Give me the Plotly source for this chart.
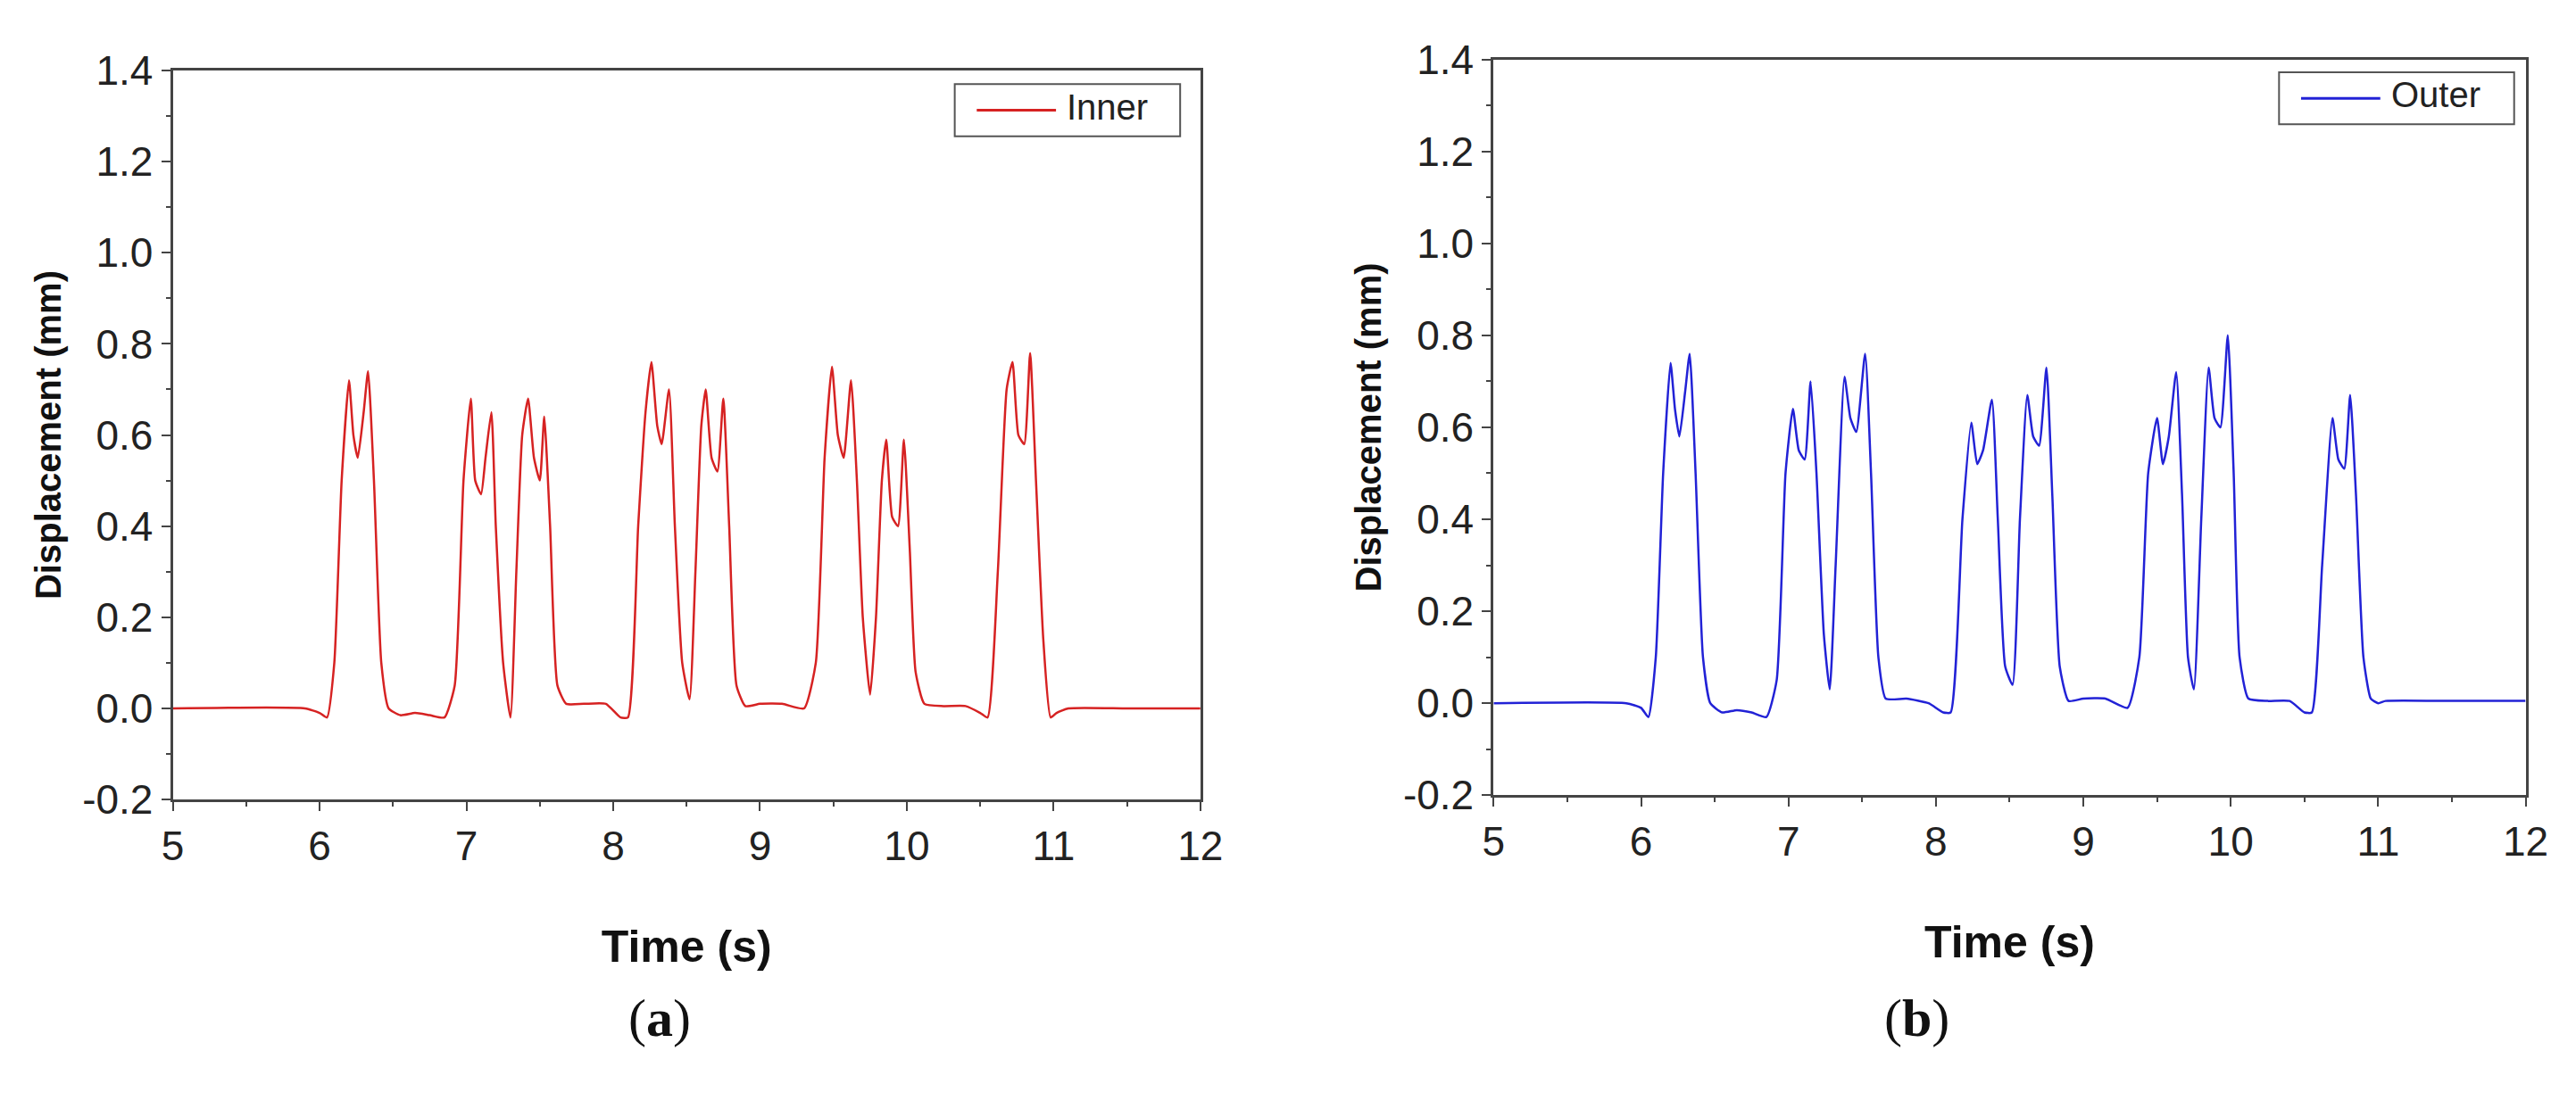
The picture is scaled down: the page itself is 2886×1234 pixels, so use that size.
import plotly.graph_objects as go

inner_t = [5.0, 5.9, 6.0, 6.05, 6.1, 6.15, 6.2, 6.23, 6.26, 6.3, 6.33, 6.37, 6.42, 6.47, 6.55, 6.65, 6.75, 6.85, 6.92,
           6.98, 7.03, 7.06, 7.1, 7.13, 7.17, 7.2, 7.25, 7.3, 7.34, 7.38, 7.42, 7.46, 7.5, 7.53, 7.57, 7.62, 7.68, 7.8, 7.95, 8.05, 8.1,
           8.17, 8.22, 8.26, 8.3, 8.33, 8.38, 8.42, 8.47, 8.52, 8.56, 8.6, 8.63, 8.67, 8.71, 8.75, 8.79, 8.84, 8.9, 9.0, 9.15, 9.3, 9.38,
           9.44, 9.49, 9.53, 9.57, 9.62, 9.66, 9.7, 9.75, 9.79, 9.83, 9.86, 9.9, 9.94, 9.98, 10.02, 10.06, 10.12, 10.25, 10.4, 10.5, 10.55,
           10.62, 10.68, 10.72, 10.76, 10.8, 10.84, 10.88, 10.93, 10.98, 11.02, 11.1, 11.5, 12.0]
inner_y = [0.0, 0.0, -0.01, -0.02, 0.1, 0.5, 0.72, 0.6, 0.55, 0.65, 0.74, 0.5, 0.1, 0.0, -0.015, -0.01, -0.015, -0.02, 0.05,
           0.5, 0.68, 0.5, 0.47, 0.55, 0.65, 0.4, 0.1, -0.02, 0.3, 0.6, 0.68, 0.55, 0.5, 0.64, 0.4, 0.05, 0.01, 0.01, 0.01, -0.02, -0.02,
           0.4, 0.65, 0.76, 0.62, 0.58, 0.70, 0.4, 0.1, 0.02, 0.3, 0.62, 0.70, 0.55, 0.52, 0.68, 0.4, 0.05, 0.005, 0.01, 0.01, 0.0, 0.1,
           0.55, 0.75, 0.6, 0.55, 0.72, 0.5, 0.2, 0.03, 0.2, 0.5, 0.59, 0.42, 0.40, 0.59, 0.35, 0.08, 0.01, 0.005, 0.005, -0.01, -0.02,
           0.3, 0.7, 0.76, 0.6, 0.58, 0.78, 0.5, 0.15, -0.02, -0.01, 0.0, 0.0, 0.0]

outer_t = [5.0, 5.9, 6.0, 6.05, 6.1, 6.15, 6.2, 6.23, 6.26, 6.3, 6.33, 6.37, 6.42, 6.47, 6.55, 6.65, 6.75, 6.85, 6.92,
           6.98, 7.03, 7.07, 7.11, 7.15, 7.19, 7.24, 7.28, 7.32, 7.38, 7.42, 7.46, 7.52, 7.56, 7.61, 7.66, 7.8, 7.95, 8.05, 8.1,
           8.18, 8.24, 8.28, 8.32, 8.38, 8.42, 8.47, 8.52, 8.57, 8.62, 8.66, 8.7, 8.75, 8.79, 8.84, 8.9, 9.0, 9.15, 9.3, 9.38,
           9.44, 9.5, 9.54, 9.58, 9.63, 9.67, 9.71, 9.75, 9.8, 9.85, 9.89, 9.93, 9.98, 10.02, 10.06, 10.12, 10.25, 10.4, 10.5, 10.55,
           10.62, 10.69, 10.73, 10.77, 10.81, 10.85, 10.9, 10.95, 11.0, 11.05, 11.5, 12.0]
outer_y = [0.0, 0.0, -0.01, -0.03, 0.1, 0.5, 0.74, 0.64, 0.58, 0.68, 0.76, 0.5, 0.1, 0.0, -0.02, -0.015, -0.02, -0.03, 0.05,
           0.5, 0.64, 0.55, 0.53, 0.70, 0.5, 0.15, 0.03, 0.3, 0.71, 0.62, 0.59, 0.76, 0.5, 0.1, 0.01, 0.01, 0.0, -0.02, -0.02,
           0.4, 0.61, 0.52, 0.55, 0.66, 0.4, 0.08, 0.04, 0.4, 0.67, 0.58, 0.56, 0.73, 0.45, 0.08, 0.005, 0.01, 0.01, -0.01, 0.1,
           0.5, 0.62, 0.52, 0.58, 0.72, 0.45, 0.1, 0.03, 0.4, 0.73, 0.62, 0.60, 0.80, 0.5, 0.1, 0.01, 0.005, 0.005, -0.02, -0.02,
           0.3, 0.62, 0.53, 0.51, 0.67, 0.45, 0.1, 0.01, 0.0, 0.005, 0.005, 0.005]

x_ticks = [5, 6, 7, 8, 9, 10, 11, 12]
y_ticks = [-0.2, 0.0, 0.2, 0.4, 0.6, 0.8, 1.0, 1.2, 1.4]

W, H = 2886, 1234
fig = go.Figure()
fig.add_trace(go.Scatter(x=inner_t, y=inner_y, mode="lines", name="Inner",
                         line=dict(color="#d62222", width=2.5, shape="spline", smoothing=0.5), xaxis="x", yaxis="y"))
fig.add_trace(go.Scatter(x=outer_t, y=outer_y, mode="lines", name="Outer",
                         line=dict(color="#2222d6", width=2.5, shape="spline", smoothing=0.5), xaxis="x2", yaxis="y2"))

font = "Liberation Sans Narrow, Liberation Sans, Arial"
bfont = "Liberation Sans, Arial"
def xax(dom, anchor):
    return dict(domain=dom, anchor=anchor, range=[5, 12], tickvals=x_ticks, ticks="outside", ticklen=10,
                tickwidth=2, minor=dict(ticks="outside", ticklen=5, dtick=0.5, tickwidth=2),
                showline=True, linewidth=3, linecolor="#444", mirror=True, showgrid=False, zeroline=False,
                tickfont=dict(size=46, family=font, color="#222"),
                title=dict(text="<b>Time (s)</b>", font=dict(size=50, family=font, color="#111"), standoff=70))
def yax(dom, anchor):
    return dict(domain=dom, anchor=anchor, range=[-0.2, 1.4], tickvals=y_ticks, ticktext=[f"{v:.1f}" for v in y_ticks],
                ticks="outside", ticklen=10, tickwidth=2, minor=dict(ticks="outside", ticklen=5, dtick=0.1, tickwidth=2),
                showline=True, linewidth=3, linecolor="#444", mirror=True, showgrid=False, zeroline=False,
                tickfont=dict(size=46, family=font, color="#222"),
                title=dict(text="<b>Displacement (mm)</b>", font=dict(size=40, family=bfont, color="#111"), standoff=12))

def fx(p): return p / W
def fy(p): return 1 - p / H
fig.update_layout(
    width=W, height=H, margin=dict(l=0, r=0, t=0, b=0), plot_bgcolor="white", paper_bgcolor="white",
    showlegend=False,
    xaxis=xax([fx(175), fx(1342)], "y"), yaxis=yax([fy(900), fy(47)], "x"),
    xaxis2=xax([fx(1675), fx(2847)], "y2"), yaxis2=yax([fy(895), fy(34)], "x2"),
)
for (x0, x1, y0, y1, col, txt) in [(1063, 1319, 63, 124, "#d62222", "Inner"), (2567, 2834, 49, 110, "#2222d6", "Outer")]:
    fig.add_shape(type="rect", xref="paper", yref="paper", x0=fx(x0), x1=fx(x1), y0=fy(y1), y1=fy(y0),
                  line=dict(color="#555", width=2), fillcolor="white")
    ym = fy((y0 + y1) / 2)
    fig.add_shape(type="line", xref="paper", yref="paper", x0=fx(x0 + 25), x1=fx(x0 + 115), y0=ym, y1=ym,
                  line=dict(color=col, width=3))
    fig.add_annotation(xref="paper", yref="paper", x=fx(x0 + 125), y=ym, yshift=4, text=txt, showarrow=False,
                       xanchor="left", yanchor="middle", font=dict(size=40, family=font, color="#222"))
for (x, t) in [(690, "(<b>a</b>)"), (2195, "(<b>b</b>)")]:
    fig.add_annotation(xref="paper", yref="paper", x=fx(x), y=fy(1192), text=t, showarrow=False,
                       font=dict(size=60, family="Liberation Serif", color="#111"))
fig.write_html("out.html")
